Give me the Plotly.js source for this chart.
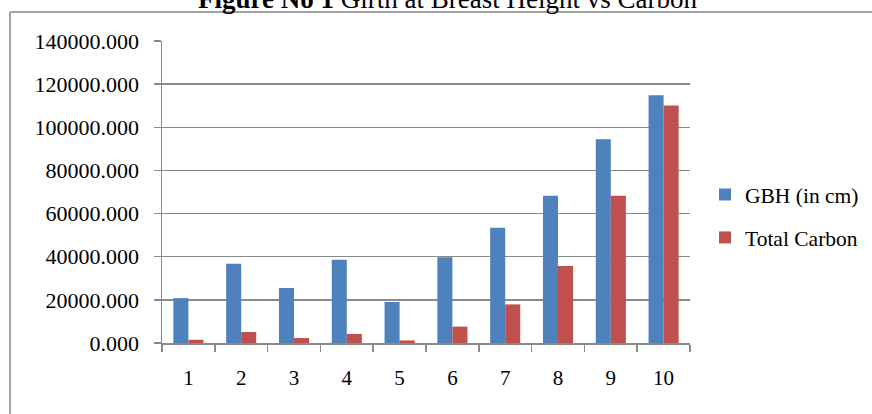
<!DOCTYPE html>
<html>
<head>
<meta charset="utf-8">
<script src="https://cdn.plot.ly/plotly-3.0.1.min.js"></script>
<style>html,body{margin:0;padding:0;background:#fff;}#chart{width:872px;height:414px;}</style>
</head>
<body>
<div id="chart"></div>
<script>
const categories = ['1','2','3','4','5','6','7','8','9','10'];
const gbhValues = [20800, 36700, 25500, 38600, 19000, 39700, 53400, 68300, 94400, 114800];
const carbonValues = [1500, 5100, 2300, 4200, 1200, 7600, 17900, 35700, 68300, 110100];
const seriesNames = ['GBH (in cm)', 'Total Carbon'];
const titleText = '<b>Figure No 1</b> Girth at Breast Height vs Carbon';

const W = 872, H = 414;
const L = 162, R = 690, T = 41, B = 343;
const px = x => (x - L) / (R - L);
const py = y => (B - y) / (B - T);

const font = {family: '"Liberation Serif", "Times New Roman", serif', color: '#000'};
const gridColor = '#8a8a8a';

const traces = [
  {type: 'bar', x: categories, y: gbhValues, name: seriesNames[0], legendgroup: 'a',
   marker: {color: '#4F81BD', line: {width: 0}}},
  {type: 'bar', x: categories, y: carbonValues, name: seriesNames[1], legendgroup: 'b',
   marker: {color: '#C0504D', line: {width: 0}}}
];

const layout = {
  width: W, height: H,
  margin: {l: L, r: W - R, t: T, b: H - B, pad: 0, autoexpand: false},
  paper_bgcolor: '#fff', plot_bgcolor: '#fff',
  font: Object.assign({size: 20}, font),
  barmode: 'group', bargap: 0.43, bargroupgap: 0,
  showlegend: true,
  legend: {x: px(705), xanchor: 'left', y: py(216), yanchor: 'middle',
           font: Object.assign({size: 21.5}, font), tracegroupgap: 12,
           bgcolor: 'rgba(0,0,0,0)', borderwidth: 0},
  xaxis: {type: 'category', showgrid: false, showline: true, linecolor: gridColor, linewidth: 1.5,
          ticks: 'outside', tickson: 'boundaries', ticklen: 7, tickcolor: gridColor, tickwidth: 1.5,
          ticklabelstandoff: 15, tickfont: Object.assign({size: 21}, font), zeroline: false,
          automargin: false, fixedrange: true},
  yaxis: {range: [0, 140000], dtick: 20000, tick0: 0, tickformat: '.3f',
          showgrid: true, gridcolor: gridColor, gridwidth: 1.5,
          showline: true, linecolor: gridColor, linewidth: 1.5,
          ticks: 'outside', ticklen: 7, tickcolor: gridColor, tickwidth: 1.5,
          ticklabelstandoff: 10, tickfont: Object.assign({size: 22}, font), zeroline: false,
          automargin: false, fixedrange: true},
  shapes: [
    {type: 'line', xref: 'paper', yref: 'paper', x0: px(10), x1: px(880), y0: py(12), y1: py(12),
     line: {color: '#a3a3a3', width: 2}},
    {type: 'line', xref: 'paper', yref: 'paper', x0: px(10), x1: px(10), y0: py(12), y1: py(420),
     line: {color: '#a3a3a3', width: 2}}
  ],
  annotations: [
    {text: titleText, xref: 'paper', yref: 'paper', x: px(447), y: py(-1), xanchor: 'center', yanchor: 'middle',
     showarrow: false, font: Object.assign({size: 27}, font)}
  ]
};

Plotly.newPlot('chart', traces, layout, {displayModeBar: false, staticPlot: true});
</script>
</body>
</html>
